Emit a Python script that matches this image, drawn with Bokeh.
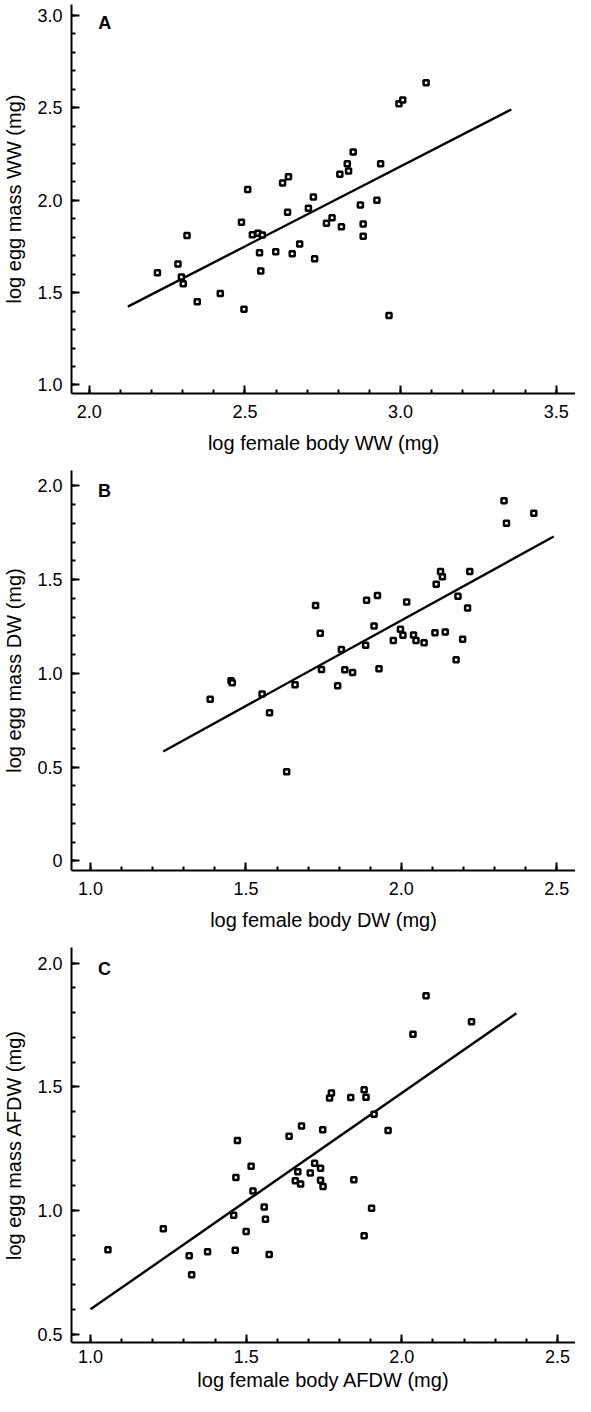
import numpy as np
from bokeh.plotting import figure
from bokeh.layouts import column
from bokeh.models import Range1d, FixedTicker, Label, PrintfTickFormatter
from bokeh.embed import file_html
from bokeh.resources import INLINE

# ---------------- Panel A (wet weight) ----------------
a_x = [2.219, 2.285, 2.296, 2.302, 2.314, 2.347, 2.421, 2.497, 2.489, 2.509,
       2.524, 2.542, 2.556, 2.547, 2.551, 2.599, 2.621, 2.640, 2.637, 2.652,
       2.676, 2.704, 2.720, 2.724, 2.762, 2.780, 2.805, 2.810, 2.829, 2.833,
       2.848, 2.871, 2.880, 2.880, 2.924, 2.936, 2.963, 2.995, 3.007, 3.082]
a_y = [1.607, 1.654, 1.584, 1.547, 1.808, 1.450, 1.495, 1.410, 1.880, 2.057,
       1.813, 1.821, 1.811, 1.715, 1.616, 1.721, 2.092, 2.126, 1.934, 1.710,
       1.763, 1.956, 2.017, 1.683, 1.875, 1.904, 2.140, 1.856, 2.196, 2.158,
       2.260, 1.974, 1.871, 1.804, 1.999, 2.196, 1.376, 2.521, 2.541, 2.635]
a_fit_x = [2.124, 3.356]
a_fit_y = [1.424, 2.490]
a_xticks = [2.0, 2.5, 3.0, 3.5]
a_yticks = [1.0, 1.5, 2.0, 2.5, 3.0]

# ---------------- Panel B (dry weight) ----------------
b_x = [1.385, 1.452, 1.456, 1.552, 1.576, 1.631, 1.658, 1.724, 1.739, 1.743,
       1.795, 1.807, 1.818, 1.843, 1.885, 1.888, 1.912, 1.923, 1.928, 1.974,
       1.997, 2.005, 2.017, 2.039, 2.047, 2.073, 2.108, 2.112, 2.126, 2.132,
       2.141, 2.176, 2.182, 2.197, 2.213, 2.220, 2.330, 2.338, 2.426]
b_y = [0.862, 0.960, 0.950, 0.889, 0.789, 0.475, 0.939, 1.362, 1.214, 1.020,
       0.933, 1.127, 1.019, 1.004, 1.150, 1.390, 1.253, 1.415, 1.024, 1.175,
       1.235, 1.203, 1.381, 1.205, 1.175, 1.163, 1.216, 1.475, 1.543, 1.515,
       1.221, 1.072, 1.411, 1.182, 1.349, 1.543, 1.920, 1.801, 1.854]
b_fit_x = [1.234, 2.490]
b_fit_y = [0.583, 1.730]
b_xticks = [1.0, 1.5, 2.0, 2.5]
b_yticks = [0.0, 0.5, 1.0, 1.5, 2.0]

# ---------------- Panel C (ash-free dry weight) ----------------
c_x = [1.056, 1.234, 1.317, 1.325, 1.376, 1.465, 1.574, 1.460, 1.500, 1.472,
       1.467, 1.516, 1.522, 1.558, 1.562, 1.638, 1.678, 1.746, 1.768, 1.774,
       1.836, 1.666, 1.658, 1.675, 1.706, 1.720, 1.739, 1.739, 1.747, 1.846,
       1.879, 1.885, 1.911, 1.956, 1.903, 1.879, 2.036, 2.078, 2.224]
c_y = [0.841, 0.926, 0.817, 0.740, 0.833, 0.839, 0.822, 0.980, 0.915, 1.283,
       1.133, 1.179, 1.079, 1.014, 0.964, 1.300, 1.341, 1.326, 1.455, 1.475,
       1.457, 1.156, 1.120, 1.107, 1.151, 1.191, 1.170, 1.122, 1.097, 1.124,
       1.488, 1.458, 1.389, 1.323, 1.009, 0.898, 1.712, 1.868, 1.763]
c_fit_x = [1.000, 2.368]
c_fit_y = [0.600, 1.797]
c_xticks = [1.0, 1.5, 2.0, 2.5]
c_yticks = [0.5, 1.0, 1.5, 2.0]

FONT = "Liberation Sans"


def minor(ticks, step=0.1):
    lo, hi = min(ticks), max(ticks)
    n = int(round((hi - lo) / step))
    return [round(lo + i * step, 3) for i in range(n + 1)]


def style_axis(ax, label):
    ax.axis_label = label
    ax.axis_label_text_font = FONT
    ax.axis_label_text_font_style = "normal"
    ax.axis_label_text_font_size = "20px"
    ax.axis_label_text_color = "black"
    ax.major_label_text_font = FONT
    ax.major_label_text_font_size = "18px"
    ax.major_label_text_color = "black"
    ax.axis_line_color = "black"
    ax.axis_line_width = 2
    ax.major_tick_line_color = "black"
    ax.major_tick_line_width = 2
    ax.minor_tick_line_color = "black"
    ax.minor_tick_line_width = 2
    ax.major_tick_in = 8
    ax.major_tick_out = 0
    ax.minor_tick_in = 4
    ax.minor_tick_out = 0
    ax.formatter = PrintfTickFormatter(format="%.1f")


def panel(xs, ys, fx, fy, xr, yr, xt, yt, xlabel, ylabel, letter, lpos,
          height, bottom, xstand, overrides=None):
    p = figure(width=575, height=height, output_backend="svg",
               toolbar_location=None, x_range=Range1d(*xr), y_range=Range1d(*yr),
               min_border_left=65, min_border_right=0, min_border_top=4,
               min_border_bottom=bottom)
    p.outline_line_color = None
    p.grid.visible = False
    p.background_fill_color = "white"
    p.border_fill_color = "white"
    p.xaxis.ticker = FixedTicker(ticks=xt, minor_ticks=minor(xt))
    p.yaxis.ticker = FixedTicker(ticks=yt, minor_ticks=minor(yt))
    style_axis(p.xaxis[0], xlabel)
    style_axis(p.yaxis[0], ylabel)
    p.xaxis.major_label_standoff = xstand[0]
    p.xaxis.axis_label_standoff = xstand[1]
    p.yaxis.major_label_standoff = 9
    p.yaxis.axis_label_standoff = 9
    if overrides:
        p.yaxis.major_label_overrides = overrides
    p.line(fx, fy, line_color="black", line_width=2.4)
    p.scatter(xs, ys, marker="square", size=5, fill_color="white",
              line_color="black", line_width=2.5)
    p.add_layout(Label(x=lpos[0], y=lpos[1], text=letter, text_font=FONT,
                       text_font_style="bold", text_font_size="18px",
                       text_color="black", text_baseline="alphabetic"))
    return p


pa = panel(a_x, a_y, a_fit_x, a_fit_y, (1.943, 3.562), (0.954, 3.058),
           a_xticks, a_yticks, "log female body WW (mg)",
           "log egg mass WW (mg)", "A", (2.029, 2.96), 466, 73, (11, 11))
pb = panel(b_x, b_y, b_fit_x, b_fit_y, (0.939, 2.560), (-0.052, 2.082),
           b_xticks, b_yticks, "log female body DW (mg)",
           "log egg mass DW (mg)", "B", (1.024, 1.975), 477, 73, (11, 11),
           overrides={0: "0"})
pc = panel(c_x, c_y, c_fit_x, c_fit_y, (0.939, 2.558), (0.466, 2.063),
           c_xticks, c_yticks, "log female body AFDW (mg)",
           "log egg mass AFDW (mg)", "C", (1.024, 1.975), 453, 54, (7, 3))

layout = column(pa, pb, pc, spacing=0)
open("out.html", "w").write(file_html(layout, INLINE))
